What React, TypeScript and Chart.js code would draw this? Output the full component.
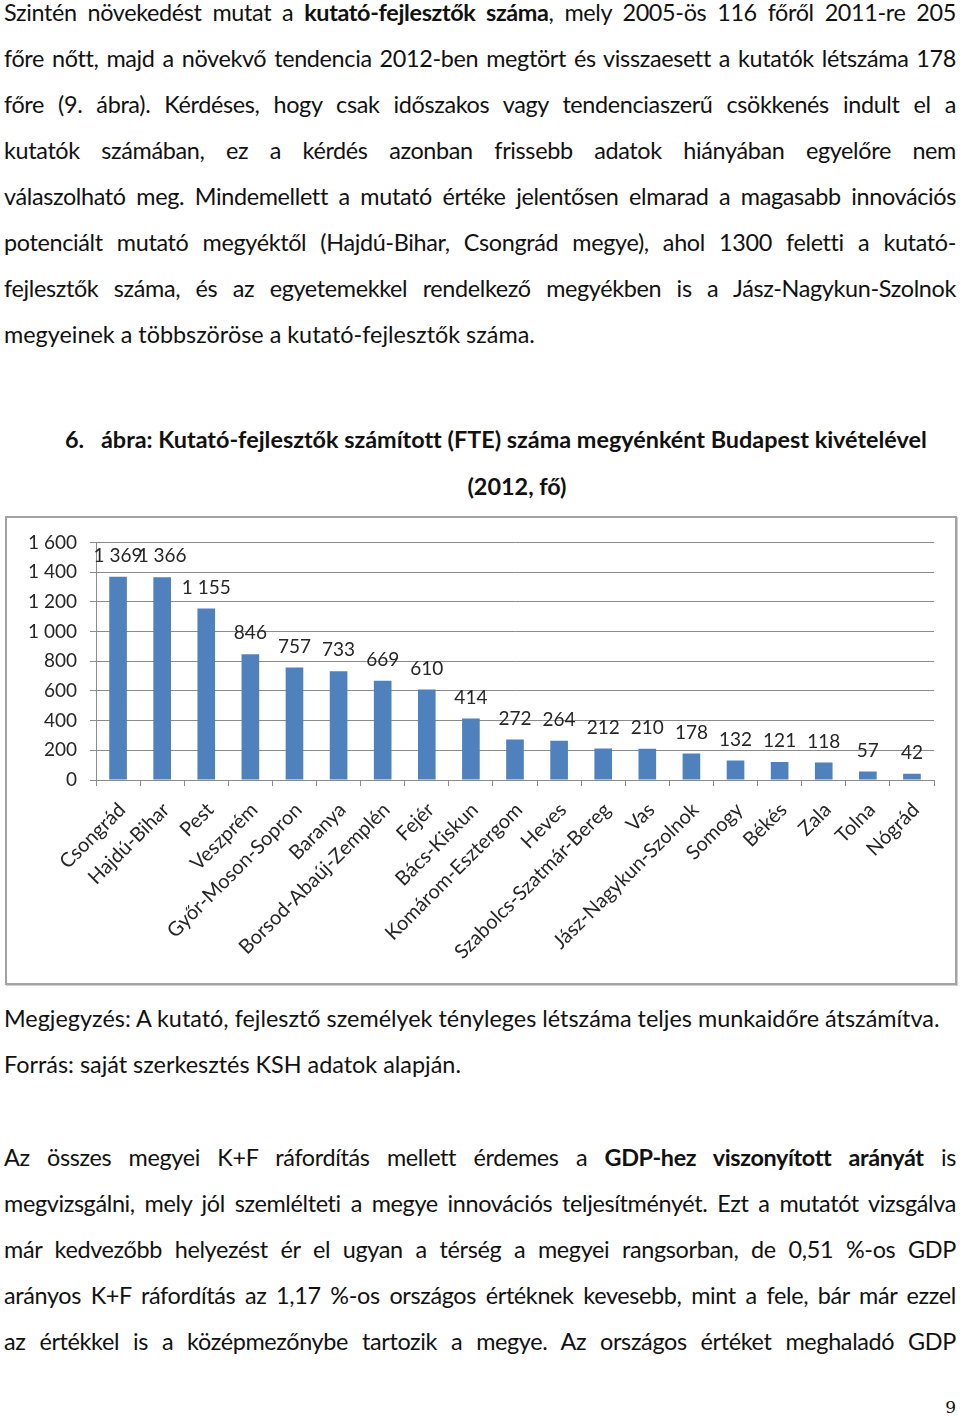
import React, { useEffect, useRef } from "react";
import { Chart, registerables } from "chart.js";

Chart.register(...registerables);

const categories = [
  "Csongrád", "Hajdú-Bihar", "Pest", "Veszprém", "Győr-Moson-Sopron", "Baranya",
  "Borsod-Abaúj-Zemplén", "Fejér", "Bács-Kiskun", "Komárom-Esztergom", "Heves",
  "Szabolcs-Szatmár-Bereg", "Vas", "Jász-Nagykun-Szolnok", "Somogy", "Békés",
  "Zala", "Tolna", "Nógrád",
];
const researchers = [1369, 1366, 1155, 846, 757, 733, 669, 610, 414, 272, 264, 212, 210, 178, 132, 121, 118, 57, 42];
const yTicks = [0, 200, 400, 600, 800, 1000, 1200, 1400, 1600];

const FONT = "Lato, 'Open Sans', sans-serif";
const TEXT_SIZE = 23.4;

const fmt = (v: number) => {
  const s = String(Math.round(v));
  return s.length > 3 ? s.slice(0, s.length - 3) + "\u00a0" + s.slice(-3) : s;
};

const valueLabels = {
  id: "valueLabels",
  afterDatasetsDraw(chart: any) {
    const ctx = chart.ctx;
    const meta = chart.getDatasetMeta(0);
    ctx.save();
    ctx.font = `19px ${FONT}`;
    ctx.fillStyle = "#262626";
    ctx.textAlign = "center";
    ctx.textBaseline = "middle";
    meta.data.forEach((el: any, i: number) => {
      ctx.fillText(fmt(researchers[i]), el.x, el.y - 21);
    });
    ctx.restore();
  },
};

function BarChart() {
  const ref = useRef<HTMLCanvasElement>(null);
  useEffect(() => {
    const chart = new Chart(ref.current!, {
      type: "bar",
      data: {
        labels: categories,
        datasets: [
          {
            data: researchers,
            backgroundColor: "#4f81bd",
            barPercentage: 0.4,
            categoryPercentage: 1,
          },
        ],
      },
      options: {
        animation: false,
        responsive: false,
        events: [],
        layout: { padding: { top: 21, right: 21, left: 0, bottom: 0 } },
        plugins: { legend: { display: false }, tooltip: { enabled: false } },
        scales: {
          x: {
            grid: { drawOnChartArea: false, drawTicks: true, tickLength: 6, color: "#8c8c8c" },
            border: { display: true, color: "#8c8c8c" },
            ticks: {
              autoSkip: false,
              maxRotation: 45,
              minRotation: 45,
              padding: 12,
              labelOffset: 4,
              color: "#262626",
              font: { family: FONT, size: 20 },
            },
            afterFit: (s: any) => { s.height = 203; },
          },
          y: {
            min: 0,
            max: 1600,
            afterBuildTicks: (s: any) => { s.ticks = yTicks.map((v) => ({ value: v })); },
            grid: { drawTicks: true, tickLength: 6, color: "#8c8c8c" },
            border: { display: true, color: "#8c8c8c" },
            ticks: {
              padding: 13,
              color: "#262626",
              font: { family: FONT, size: 19 },
              callback: (v: any) => fmt(Number(v)),
            },
            afterFit: (s: any) => { s.width = 89; },
          },
        },
      },
      plugins: [valueLabels],
    });
    return () => chart.destroy();
  }, []);
  return <canvas ref={ref} width={948} height={465} style={{ display: "block", width: 948, height: 465 }} />;
}

type Seg = string | { b: string };

const para1: Seg[][] = [
  ["Szintén növekedést mutat a ", { b: "kutató-fejlesztők száma" }, ", mely 2005-ös 116 főről 2011-re 205"],
  ["főre nőtt, majd a növekvő tendencia 2012-ben megtört és visszaesett a kutatók létszáma 178"],
  ["főre (9. ábra). Kérdéses, hogy csak időszakos vagy tendenciaszerű csökkenés indult el a"],
  ["kutatók számában, ez a kérdés azonban frissebb adatok hiányában egyelőre nem"],
  ["válaszolható meg. Mindemellett a mutató értéke jelentősen elmarad a magasabb innovációs"],
  ["potenciált mutató megyéktől (Hajdú-Bihar, Csongrád megye), ahol 1300 feletti a kutató-"],
  ["fejlesztők száma, és az egyetemekkel rendelkező megyékben is a Jász-Nagykun-Szolnok"],
];
const para1Last = "megyeinek a többszöröse a kutató-fejlesztők száma.";
const para2: Seg[][] = [
  ["Az összes megyei K+F ráfordítás mellett érdemes a ", { b: "GDP-hez viszonyított arányát" }, " is"],
  ["megvizsgálni, mely jól szemlélteti a megye innovációs teljesítményét. Ezt a mutatót vizsgálva"],
  ["már kedvezőbb helyezést ér el ugyan a térség a megyei rangsorban, de 0,51 %-os GDP"],
  ["arányos K+F ráfordítás az 1,17 %-os országos értéknek kevesebb, mint a fele, bár már ezzel"],
  ["az értékkel is a középmezőnybe tartozik a megye. Az országos értéket meghaladó GDP"],
];

function Line({ center, segs, justify = true, left = 4, width = 952, bold = false, align }: any) {
  return (
    <div
      style={{
        position: "absolute",
        left,
        width,
        top: center - 23,
        height: 46,
        lineHeight: "46px",
        textAlign: align ?? (justify ? "justify" : "left"),
        textAlignLast: align ?? (justify ? "justify" : "left"),
        letterSpacing: justify && !align ? "-0.35px" : "normal",
        fontWeight: bold ? 700 : 400,
        overflow: "visible",
      } as any}
    >
      {segs.map((s: Seg, i: number) =>
        typeof s === "string" ? <span key={i}>{s}</span> : <b key={i}>{s.b}</b>
      )}
    </div>
  );
}

export default function App() {
  return (
    <div
      style={{
        position: "absolute",
        left: 0,
        top: 0,
        width: 960,
        height: 1416,
        background: "#fff",
        color: "#111",
        fontFamily: FONT,
        fontSize: TEXT_SIZE,
        fontVariantLigatures: "none",
        overflow: "hidden",
      }}
    >
      {para1.map((segs, i) => (
        <Line key={"a" + i} center={12 + 46 * i} segs={segs} />
      ))}
      <Line center={12 + 46 * 7} segs={[para1Last]} justify={false} />

      <div style={{ position: "absolute", left: 65, top: 439 - 23, lineHeight: "46px", fontWeight: 700 }}>6.</div>
      <Line center={439} left={101} width={855} segs={["ábra: Kutató-fejlesztők számított (FTE) száma megyénként Budapest kivételével"]} justify={false} bold />
      <Line center={486} left={317} width={400} segs={["(2012, fő)"]} align="center" bold />

      <div
        style={{
          position: "absolute",
          left: 5,
          top: 516,
          width: 948,
          height: 465,
          border: "2px solid #a3a3a3",
          boxShadow: "1px 1px 0 #d0d0d0",
          background: "#fff",
        }}
      >
        <BarChart />
      </div>

      <Line center={1018} segs={["Megjegyzés: A kutató, fejlesztő személyek tényleges létszáma teljes munkaidőre átszámítva."]} justify={false} />
      <Line center={1064} segs={["Forrás: saját szerkesztés KSH adatok alapján."]} justify={false} />

      {para2.map((segs, i) => (
        <Line key={"b" + i} center={1157 + 46 * i} segs={segs} />
      ))}

      <div style={{ position: "absolute", right: 4, top: 1396, fontFamily: "'DejaVu Serif', serif", fontSize: 17, lineHeight: "22px" }}>9</div>
    </div>
  );
}
